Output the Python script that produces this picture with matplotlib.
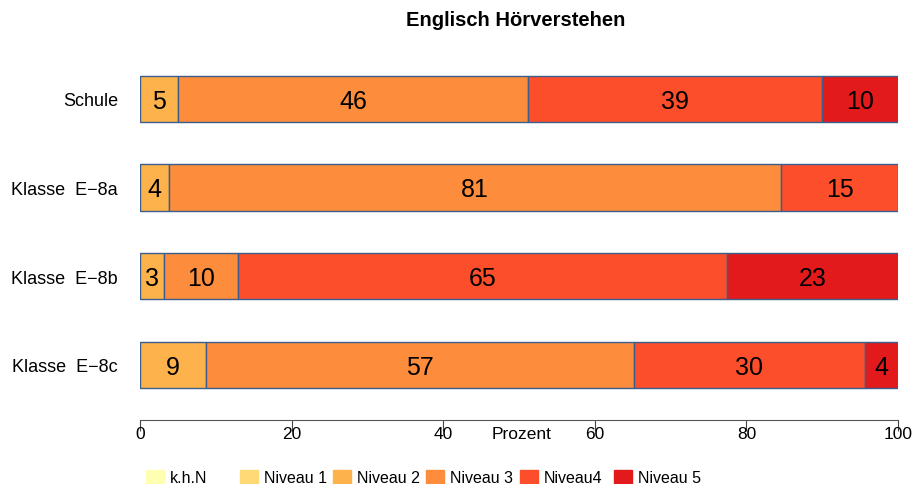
import numpy as np
import matplotlib
matplotlib.use('Agg')
import matplotlib.pyplot as plt
import matplotlib.transforms as mtransforms

plt.rcParams['font.family'] = ['Liberation Sans', 'DejaVu Sans']

# Data (percent per level, top to bottom)
groups = ['Schule', 'Klasse  E\u22128a', 'Klasse  E\u22128b', 'Klasse  E\u22128c']
levels = ['k.h.N', 'Niveau 1', 'Niveau 2', 'Niveau 3', 'Niveau4', 'Niveau 5']
colors = ['#FFFFB2', '#FED976', '#FEB24C', '#FD8D3C', '#FC4E2A', '#E31A1C']
values = np.array([
    [0, 0, 5.0, 46.2, 38.8, 10.0],
    [0, 0, 3.8, 80.8, 15.4, 0],
    [0, 0, 3.2, 9.7, 64.5, 22.6],
    [0, 0, 8.7, 56.5, 30.4, 4.4],
])
labels = [
    ['', '', '5', '46', '39', '10'],
    ['', '', '4', '81', '15', ''],
    ['', '', '3', '10', '65', '23'],
    ['', '', '9', '57', '30', '4'],
]
title = 'Englisch Hörverstehen'
xticks = [0, 20, 40, 60, 80, 100]

W, H = 915, 485
fig = plt.figure(figsize=(W / 100, H / 100), dpi=100)
ax = fig.add_axes([140 / W, (H - 421) / H, 758 / W, (421 - 45.6) / H])

ypos = np.arange(len(groups))[::-1]
for i, y in enumerate(ypos):
    left = 0
    for j, v in enumerate(values[i]):
        if v > 0:
            ax.barh(y, v, left=left, height=0.52, color=colors[j],
                    edgecolor='#3B5F8C', linewidth=1)
            ax.text(left + v / 2, y - 0.02, labels[i][j], ha='center',
                    va='center', fontsize=18)
        left += v

ax.set_xlim(0, 100)
ax.set_ylim(-0.62, 3.61)
ax.set_yticks(ypos)
ax.set_yticklabels(groups, fontsize=13)
ax.tick_params(axis='y', length=0, pad=15.8)
ax.set_xticks(xticks)
ax.set_xticklabels([str(t) for t in xticks], fontsize=12.5)
ax.tick_params(axis='x', length=8, width=0.8, pad=-4, color='#444444')
for s in ['top', 'right', 'left']:
    ax.spines[s].set_visible(False)
ax.spines['bottom'].set_color('#555555')

trans = mtransforms.blended_transform_factory(ax.transData, ax.transAxes)
ax.text(50.3, -0.016, 'Prozent', transform=trans, ha='center', va='top',
        fontsize=12.5)

fig.text(516 / W, 1 - 20 / H, title, ha='center', va='center',
         fontsize=14.5, fontweight='bold')

# legend row
lx = [146, 240, 333, 426, 520, 614]
for x, lab, c in zip(lx, levels, colors):
    fig.patches.append(plt.Rectangle((x / W, (H - 486) / H), 18 / W, 15 / H,
                                     transform=fig.transFigure, color=c))
    fig.text((x + 24) / W, 1 - 479 / H, lab, ha='left', va='center',
             fontsize=11.5)

fig.savefig('out.png', dpi=100)
